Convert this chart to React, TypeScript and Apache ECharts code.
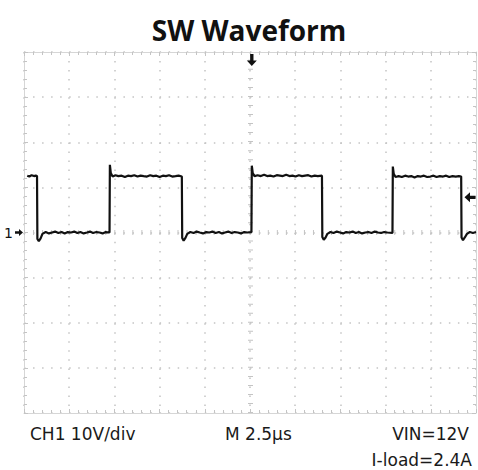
import React, { useEffect, useRef } from 'react';
import * as echarts from 'echarts';

// ---- texts ----
const titleText = 'SW Waveform';
const channelLabel = 'CH1 10V/div';
const timebaseLabel = 'M 2.5µs';
const vinLabel = 'VIN=12V';
const loadLabel = 'I-load=2.4A';
const groundMarkerLabel = '1';

// ---- axes (time in µs, voltage in V) ----
const timeMinUs = 0;
const timeMaxUs = 25;
const timeDivUs = 2.5;
const voltMin = -40;
const voltMax = 40;
const voltDiv = 10;
const centerTimeUs = 12.5;
const groundV = 0;
const triggerTimeUs = 12.6;
const triggerLevelV = 7.8;

// ---- trace segments [time µs, volt V] ----
const seg0High: [number, number][] = [[0.18, 12.6], [0.3, 12.4], [0.42, 12.7], [0.55, 12.5], [0.65, 12.6], [0.72, 12.5]];
const seg1Low: [number, number][] = [[0.74, -1.4], [0.82, -1.9], [0.92, -1.3], [1.02, -0.3], [1.2, 0.1], [1.38, -0.2], [1.55, 0.0], [1.72, 0.2], [1.9, -0.1], [2.08, 0.1], [2.25, -0.2], [2.42, 0.1], [2.6, 0.0], [2.78, 0.2], [2.95, -0.1], [3.12, 0.1], [3.3, -0.2], [3.48, 0.0], [3.65, 0.2], [3.82, -0.1], [4.0, 0.1], [4.18, 0.0], [4.35, -0.2], [4.52, 0.1], [4.73, 0.0]];
const seg2High: [number, number][] = [[4.75, 15.0], [4.8, 13.2], [4.9, 12.4], [5.06, 12.7], [5.22, 12.5], [5.4, 12.6], [5.58, 12.3], [5.75, 12.6], [5.92, 12.5], [6.1, 12.7], [6.28, 12.4], [6.45, 12.6], [6.62, 12.5], [6.8, 12.4], [6.98, 12.7], [7.15, 12.5], [7.32, 12.6], [7.5, 12.3], [7.68, 12.6], [7.85, 12.5], [8.02, 12.7], [8.2, 12.4], [8.38, 12.5], [8.55, 12.6], [8.73, 12.4]];
const seg3Low: [number, number][] = [[8.75, -1.2], [8.83, -1.8], [8.93, -1.2], [9.03, -0.3], [9.2, 0.1], [9.38, -0.1], [9.55, 0.2], [9.72, 0.0], [9.9, -0.2], [10.08, 0.1], [10.25, 0.0], [10.42, 0.2], [10.6, -0.1], [10.78, 0.1], [10.95, -0.2], [11.12, 0.0], [11.3, 0.2], [11.48, -0.1], [11.65, 0.1], [11.82, 0.0], [12.0, -0.2], [12.18, 0.1], [12.35, 0.0], [12.58, 0.1]];
const seg4High: [number, number][] = [[12.6, 14.8], [12.65, 13.2], [12.75, 12.5], [12.92, 12.7], [13.1, 12.5], [13.28, 12.8], [13.45, 12.5], [13.62, 12.6], [13.8, 12.4], [13.98, 12.7], [14.15, 12.6], [14.32, 12.5], [14.5, 12.8], [14.68, 12.5], [14.85, 12.6], [15.02, 12.4], [15.2, 12.7], [15.38, 12.5], [15.55, 12.6], [15.72, 12.7], [15.9, 12.4], [16.08, 12.6], [16.25, 12.5], [16.48, 12.6]];
const seg5Low: [number, number][] = [[16.5, -1.0], [16.58, -1.6], [16.68, -1.1], [16.78, -0.3], [16.95, 0.1], [17.12, -0.1], [17.3, 0.2], [17.48, 0.0], [17.65, -0.2], [17.82, 0.1], [18.0, 0.0], [18.18, 0.2], [18.35, -0.1], [18.52, 0.1], [18.7, -0.2], [18.88, 0.0], [19.05, 0.1], [19.22, -0.1], [19.4, 0.2], [19.58, 0.0], [19.75, -0.1], [19.92, 0.1], [20.1, 0.0], [20.38, -0.1]];
const seg6High: [number, number][] = [[20.4, 14.6], [20.45, 13.0], [20.55, 12.3], [20.72, 12.5], [20.9, 12.3], [21.08, 12.6], [21.25, 12.4], [21.42, 12.5], [21.6, 12.2], [21.78, 12.5], [21.95, 12.4], [22.12, 12.6], [22.3, 12.3], [22.48, 12.4], [22.65, 12.6], [22.82, 12.3], [23.0, 12.5], [23.18, 12.4], [23.35, 12.6], [23.52, 12.3], [23.7, 12.5], [23.88, 12.4], [24.05, 12.5], [24.18, 12.4]];
const seg7Low: [number, number][] = [[24.2, -1.1], [24.28, -1.7], [24.38, -1.1], [24.5, -0.3], [24.66, 0.1], [24.83, -0.1], [25.0, 0.1]];

const trace = [...seg0High, ...seg1Low, ...seg2High, ...seg3Low, ...seg4High, ...seg5Low, ...seg6High, ...seg7Low];

const gridColor = '#c4c4c4';
const borderColor = '#d6d6d6';
const dotDash = [1.5, 7.54];
const textFont = '"DejaVu Sans", sans-serif';

export default function App() {
  const ref = useRef<HTMLDivElement>(null);
  useEffect(() => {
    const chart = echarts.init(ref.current!, null, { renderer: 'svg' });
    const axisCommon = {
      type: 'value',
      axisLabel: { show: false },
      axisLine: { show: true, onZero: false, lineStyle: { color: borderColor, width: 1 } },
      axisTick: { show: true, inside: true, length: 4, lineStyle: { color: gridColor } },
      minorTick: { show: true, splitNumber: 5, length: 3, lineStyle: { color: gridColor } },
    };
    const xCommon = { ...axisCommon, min: timeMinUs, max: timeMaxUs, interval: timeDivUs };
    const yCommon = { ...axisCommon, min: voltMin, max: voltMax, interval: voltDiv };
    const splitDots = { show: true, lineStyle: { color: gridColor, width: 1.5, type: dotDash } };

    const option: any = {
      animation: false,
      backgroundColor: '#ffffff',
      grid: { left: 24, top: 52, width: 452, height: 361, containLabel: false },
      xAxis: [
        { ...xCommon, position: 'bottom', splitLine: splitDots },
        { ...xCommon, position: 'top', splitLine: { show: false } },
      ],
      yAxis: [
        { ...yCommon, position: 'left', splitLine: splitDots },
        { ...yCommon, position: 'right', splitLine: { show: false } },
      ],
      series: [
        {
          type: 'line',
          xAxisIndex: 0,
          yAxisIndex: 0,
          data: trace,
          showSymbol: false,
          symbol: 'none',
          lineStyle: { color: '#111', width: 2.2 },
          z: 5,
          markLine: {
            silent: true,
            symbol: ['none', 'none'],
            label: { show: false },
            lineStyle: { color: gridColor, width: 5, type: [1, 8.03] },
            data: [{ xAxis: centerTimeUs }, { yAxis: groundV }],
          },
          markPoint: {
            silent: true,
            label: { show: false },
            itemStyle: { color: '#111' },
            data: [
              {
                coord: [triggerTimeUs, voltMax],
                symbol: 'path://M3,0 L6,0 L6,6 L9,6 L4.5,11 L0,6 L3,6 Z',
                symbolSize: [10, 12],
                symbolOffset: [0, 8],
              },
              {
                coord: [timeMinUs, groundV],
                symbol: 'path://M0,3 L5,3 L5,0 L10,4.5 L5,9 L5,6 L0,6 Z',
                symbolSize: [8, 7],
                symbolOffset: [-5, 0],
                label: {
                  show: true,
                  formatter: groundMarkerLabel,
                  position: 'left',
                  distance: 2,
                  color: '#111',
                  fontSize: 14,
                  fontFamily: textFont,
                },
              },
              {
                coord: [timeMaxUs, triggerLevelV],
                symbol: 'path://M10,3 L5,3 L5,0 L0,4.5 L5,9 L5,6 L10,6 Z',
                symbolSize: [11, 10],
                symbolOffset: [-6, 0],
              },
            ],
          },
        },
      ],
      graphic: [
        {
          type: 'text',
          x: 249,
          y: 30,
          style: {
            text: titleText,
            fontSize: 28,
            fontWeight: 'bold',
            fontFamily: '"Open Sans", sans-serif',
            fill: '#111',
            textAlign: 'center',
            textVerticalAlign: 'middle',
          },
        },
        {
          type: 'text', x: 30, y: 434,
          style: { text: channelLabel, fontSize: 17, fontFamily: textFont, fill: '#1a1a1a', textAlign: 'left', textVerticalAlign: 'middle' },
        },
        {
          type: 'text', x: 225, y: 434,
          style: { text: timebaseLabel, fontSize: 17, fontFamily: textFont, fill: '#1a1a1a', textAlign: 'left', textVerticalAlign: 'middle' },
        },
        {
          type: 'text', x: 469, y: 434,
          style: { text: vinLabel, fontSize: 17, fontFamily: textFont, fill: '#1a1a1a', textAlign: 'right', textVerticalAlign: 'middle' },
        },
        {
          type: 'text', x: 472, y: 460,
          style: { text: loadLabel, fontSize: 17, fontFamily: textFont, fill: '#1a1a1a', textAlign: 'right', textVerticalAlign: 'middle' },
        },
      ],
    };
    chart.setOption(option);
    return () => chart.dispose();
  }, []);
  return <div ref={ref} style={{ position: 'absolute', left: 0, top: 0, width: 478, height: 470 }} />;
}
